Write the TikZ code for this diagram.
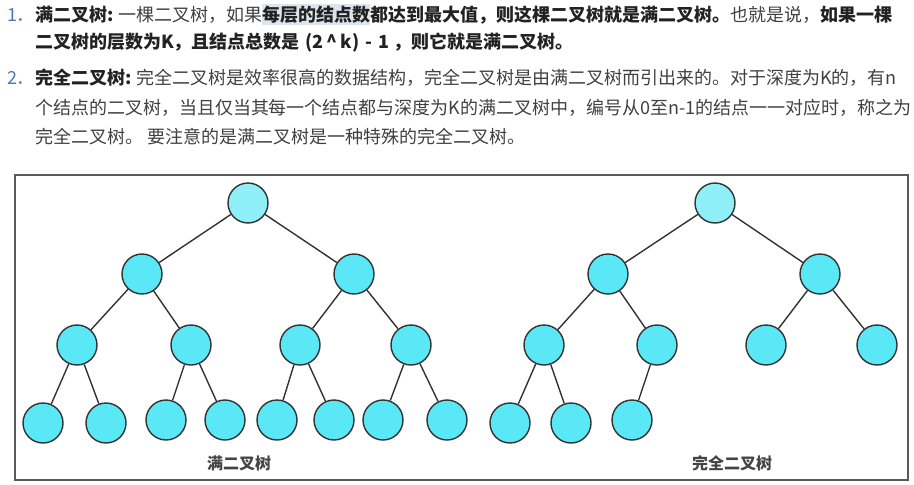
\documentclass[tikz,border=0pt]{standalone}
\usepackage{fontspec}
\setmainfont{Noto Sans CJK SC}
\definecolor{txtc}{HTML}{404040}
\definecolor{boldc}{HTML}{222222}
\definecolor{numc}{HTML}{4A78B5}
\definecolor{hlc}{HTML}{DCE4EE}
\definecolor{edgec}{HTML}{333333}
\definecolor{nodec}{HTML}{5BE8F6}
\definecolor{rootc}{HTML}{8EEFF9}
\definecolor{boxc}{HTML}{5A5A5A}
\definecolor{labc}{HTML}{444444}
\tikzset{
  txt/.style={anchor=base west, inner sep=0pt, outer sep=0pt, font=\fontsize{18}{18}\selectfont, text=txtc},
  btxt/.style={txt, font=\fontsize{18}{18}\selectfont\bfseries, text=boldc},
  numtxt/.style={txt, text=numc},
  hltxt/.style={btxt, fill=hlc, inner ysep=2pt},
  tn/.style={circle, draw=edgec, line width=1.4pt, fill=nodec, minimum size=40pt, inner sep=0pt},
  rootn/.style={tn, fill=rootc},
  treeline/.style={draw=edgec, line width=1.4pt},
  caption/.style={font=\fontsize{16}{16}\selectfont\bfseries, text=labc, inner sep=0pt}
}
\begin{document}
\begin{tikzpicture}[x=1pt,y=-1pt]
\useasboundingbox (0,0) rectangle (914,485);
% ---------- text ----------
\node[numtxt] (n1) at (7,21) {1．};
\node[btxt] (l1a) at (35,21) {满二叉树:};
\node[txt] (l1b) at (l1a.base east) {\hspace{5pt}一棵二叉树，如果};
\node[hltxt] (l1c) at (l1b.base east) {每层的结点数};
\node[btxt] (l1d) at (l1c.base east) {都达到最大值，则这棵二叉树就是满二叉树。};
\node[txt] (l1e) at (l1d.base east) {也就是说，};
\node[btxt] (l1f) at (l1e.base east) {如果一棵};
\node[btxt] (l2a) at (35,48) {二叉树的层数为K，且结点总数是\hspace{6pt}(2\,\^{}\,k)\hspace{6pt}-\hspace{6pt}1\hspace{4pt}，则它就是满二叉树。};

\node[numtxt] (n2) at (7,84) {2．};
\node[btxt] (m1a) at (35,84) {完全二叉树:};
\node[txt] (m1b) at (m1a.base east) {\hspace{5pt}完全二叉树是效率很高的数据结构，完全二叉树是由满二叉树而引出来的。对于深度为K的，有n};
\node[txt] (m2a) at (35,114) {个结点的二叉树，当且仅当其每一个结点都与深度为K的满二叉树中，编号从0至n-1的结点一一对应时，称之为};
\node[txt] (m3a) at (35,143) {完全二叉树。 要注意的是满二叉树是一种特殊的完全二叉树。};

% ---------- frame ----------
\draw[boxc, line width=2pt] (15,175) rectangle (908,480);

% ---------- full binary tree ----------
\node[rootn] (r1) at (248,203) {};
\node[tn] (a1) at (142,274) {};
\node[tn] (a2) at (354,274) {};
\node[tn] (b1) at (77,345) {};
\node[tn] (b2) at (191,345) {};
\node[tn] (b3) at (300,345) {};
\node[tn] (b4) at (411,345) {};
\node[tn] (c1) at (43,423) {};
\node[tn] (c2) at (106,423) {};
\node[tn] (c3) at (166,420) {};
\node[tn] (c4) at (225,420) {};
\node[tn] (c5) at (277,420) {};
\node[tn] (c6) at (334,420) {};
\node[tn] (c7) at (383,420) {};
\node[tn] (c8) at (447,420) {};
\draw[treeline] (r1) -- (a1) (r1) -- (a2)
  (a1) -- (b1) (a1) -- (b2) (a2) -- (b3) (a2) -- (b4)
  (b1) -- (c1) (b1) -- (c2) (b2) -- (c3) (b2) -- (c4)
  (b3) -- (c5) (b3) -- (c6) (b4) -- (c7) (b4) -- (c8);
\node[caption] (cap1) at (239,463) {满二叉树};

% ---------- complete binary tree ----------
\node[rootn] (r2) at (715,203) {};
\node[tn] (d1) at (608,274) {};
\node[tn] (d2) at (820,274) {};
\node[tn] (e1) at (544,345) {};
\node[tn] (e2) at (657,345) {};
\node[tn] (e3) at (766,345) {};
\node[tn] (e4) at (877,345) {};
\node[tn] (f1) at (510,423) {};
\node[tn] (f2) at (571,423) {};
\node[tn] (f3) at (632,420) {};
\draw[treeline] (r2) -- (d1) (r2) -- (d2)
  (d1) -- (e1) (d1) -- (e2) (d2) -- (e3) (d2) -- (e4)
  (e1) -- (f1) (e1) -- (f2) (e2) -- (f3);
\node[caption] (cap2) at (732,463) {完全二叉树};
\end{tikzpicture}
\end{document}
